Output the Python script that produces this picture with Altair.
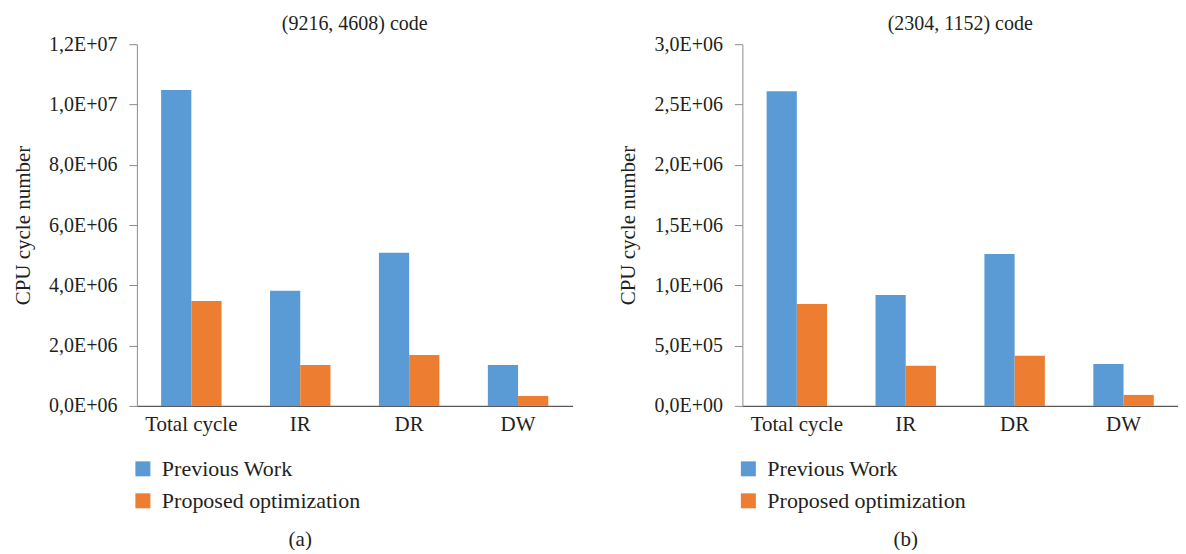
import altair as alt
import pandas as pd

categories = ["Total cycle", "IR", "DR", "DW"]
series_names = ["Previous Work", "Proposed optimization"]

a_previous = [10.48e6, 3.82e6, 5.08e6, 1.36e6]
a_proposed = [3.48e6, 1.36e6, 1.69e6, 0.33e6]
b_previous = [2.61e6, 0.92e6, 1.26e6, 0.348e6]
b_proposed = [0.846e6, 0.332e6, 0.415e6, 0.091e6]

a_ticks = [0, 2000000, 4000000, 6000000, 8000000, 10000000, 12000000]
a_tick_labels = ["0,0E+06", "2,0E+06", "4,0E+06", "6,0E+06", "8,0E+06", "1,0E+07", "1,2E+07"]
b_ticks = [0, 500000, 1000000, 1500000, 2000000, 2500000, 3000000]
b_tick_labels = ["0,0E+00", "5,0E+05", "1,0E+06", "1,5E+06", "2,0E+06", "2,5E+06", "3,0E+06"]

titles = ["(9216, 4608) code", "(2304, 1152) code"]
captions = ["(a)", "(b)"]
y_title = "CPU cycle number"
colors = ["#5B9BD5", "#ED7D31"]

FONT = "Liberation Serif"
TEXT = "#231F20"


def label_expr(ticks, labels):
    expr = "''"
    for t, l in reversed(list(zip(ticks, labels))):
        expr = f"datum.value == {t} ? '{l}' : ({expr})"
    return expr


def panel(prev, prop, ticks, labels, title, caption):
    df = pd.DataFrame({
        "category": categories * 2,
        "series": [series_names[0]] * len(categories) + [series_names[1]] * len(categories),
        "value": prev + prop,
    })
    return alt.Chart(
        df,
        title=alt.Title(title, anchor="middle", frame="group", fontSize=20, font=FONT,
                        fontWeight="normal", color=TEXT, offset=0),
    ).mark_bar().encode(
        x=alt.X("category:N", sort=categories,
                scale=alt.Scale(paddingInner=0.445, paddingOuter=0.2225),
                axis=alt.Axis(title=caption, labelAngle=0, ticks=False, domainColor="#595959",
                              domainWidth=1.2, labelPadding=8, labelFontSize=21, labelFont=FONT,
                              labelColor=TEXT, titleFont=FONT, titleFontSize=21,
                              titleFontWeight="normal", titleColor=TEXT, titleX=163, titleY=134,
                              titleBaseline="middle", titleAlign="center")),
        xOffset=alt.XOffset("series:N", sort=series_names),
        y=alt.Y("value:Q", scale=alt.Scale(domain=[0, ticks[-1]], nice=False),
                axis=alt.Axis(values=ticks, labelExpr=label_expr(ticks, labels), title=y_title,
                              grid=False, tickSize=8, labelPadding=12, domainColor="#8c8c8c",
                              tickColor="#8c8c8c", labelFontSize=20, labelFont=FONT,
                              labelColor=TEXT, titleFont=FONT, titleFontSize=21,
                              titleFontWeight="normal", titleColor=TEXT, titlePadding=15)),
        color=alt.Color("series:N", sort=series_names,
                        scale=alt.Scale(domain=series_names, range=colors),
                        legend=alt.Legend(title=None, orient="none", legendX=-5, legendY=414,
                                          symbolType="square", symbolSize=225,
                                          symbolStrokeWidth=0, labelFontSize=22, labelFont=FONT,
                                          labelColor=TEXT, rowPadding=10, labelOffset=8,
                                          labelLimit=0, direction="vertical", padding=0)),
    ).properties(width=436, height=362)


left = panel(a_previous, a_proposed, a_ticks, a_tick_labels, titles[0], captions[0])
right = panel(b_previous, b_proposed, b_ticks, b_tick_labels, titles[1], captions[1])

chart = alt.hconcat(left, right, spacing=45).resolve_scale(
    color="independent"
).properties(
    padding={"left": 4, "top": 6, "right": 0, "bottom": 0}
).configure_view(stroke=None)

chart.save("out.html", embed_options={"renderer": "svg", "actions": False})
